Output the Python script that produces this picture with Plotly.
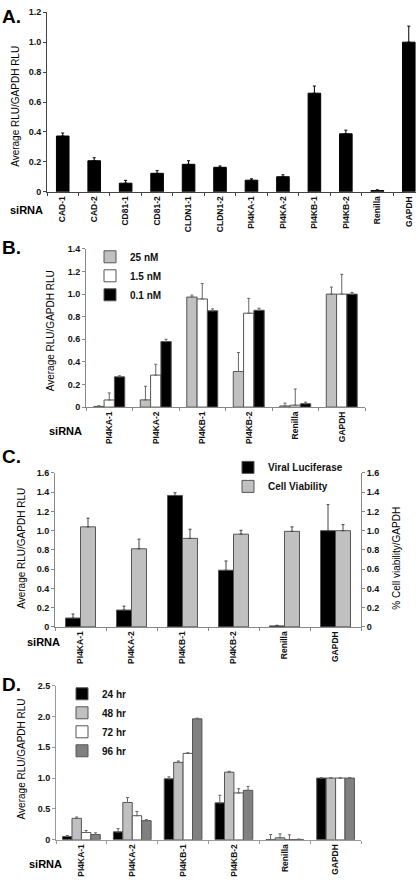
import plotly.graph_objects as go

# ---------------- DATA ----------------
a_cats = ["CAD-1", "CAD-2", "CD81-1", "CD81-2", "CLDN1-1", "CLDN1-2",
          "PI4KA-1", "PI4KA-2", "PI4KB-1", "PI4KB-2", "Renilla", "GAPDH"]
a_vals = [0.373, 0.208, 0.058, 0.124, 0.184, 0.164, 0.078, 0.101, 0.659, 0.388, 0.009, 1.0]
a_errs = [0.020, 0.020, 0.019, 0.018, 0.024, 0.009, 0.009, 0.013, 0.048, 0.024, 0.005, 0.107]

grp_cats = ["PI4KA-1", "PI4KA-2", "PI4KB-1", "PI4KB-2", "Renilla", "GAPDH"]

b_names = ["25 nM", "1.5 nM", "0.1 nM"]
b_25 = [0.006, 0.064, 0.974, 0.315, 0.010, 1.0]
b_25_err = [0.006, 0.120, 0.017, 0.168, 0.025, 0.062]
b_15 = [0.063, 0.283, 0.957, 0.831, 0.017, 1.0]
b_15_err = [0.062, 0.096, 0.136, 0.131, 0.143, 0.175]
b_01 = [0.268, 0.580, 0.852, 0.857, 0.030, 1.0]
b_01_err = [0.009, 0.020, 0.017, 0.018, 0.014, 0.015]

c_names = ["Viral Luciferase", "Cell Viability"]
c_viral = [0.092, 0.175, 1.366, 0.589, 0.010, 1.0]
c_viral_err = [0.042, 0.041, 0.028, 0.096, 0.007, 0.270]
c_cell = [1.040, 0.812, 0.920, 0.964, 0.993, 1.0]
c_cell_err = [0.090, 0.100, 0.095, 0.040, 0.047, 0.063]

d_names = ["24 hr", "48 hr", "72 hr", "96 hr"]
d_24 = [0.053, 0.128, 0.988, 0.598, 0.003, 1.0]
d_24_err = [0.016, 0.052, 0.032, 0.123, 0.082, 0.005]
d_48 = [0.347, 0.604, 1.255, 1.095, 0.032, 1.0]
d_48_err = [0.022, 0.080, 0.022, 0.015, 0.064, 0.005]
d_72 = [0.118, 0.390, 1.400, 0.759, 0.003, 1.0]
d_72_err = [0.032, 0.069, 0.010, 0.069, 0.077, 0.005]
d_96 = [0.085, 0.310, 1.960, 0.801, 0.005, 1.0]
d_96_err = [0.027, 0.016, 0.011, 0.064, 0.006, 0.005]

# tick values / labels
a_yticks = [0, 0.2, 0.4, 0.6, 0.8, 1.0, 1.2]
a_ylabels = ["0", "0.2", "0.4", "0.6", "0.8", "1.0", "1.2"]
b_yticks = [0, 0.2, 0.4, 0.6, 0.8, 1.0, 1.2, 1.4]
b_ylabels = ["0", "0.2", "0.4", "0.6", "0.8", "1.0", "1.2", "1.4"]
c_yticks = [0, 0.2, 0.4, 0.6, 0.8, 1.0, 1.2, 1.4, 1.6]
c_ylabels = ["0", "0.2", "0.4", "0.6", "0.8", "1.0", "1.2", "1.4", "1.6"]
d_yticks = [0, 0.5, 1.0, 1.5, 2.0, 2.5]
d_ylabels = ["0", "0.5", "1.0", "1.5", "2.0", "2.5"]

# ---------------- STYLE ----------------
FONT = "Liberation Sans, Arial, Helvetica, sans-serif"
BLACK = "#000000"
LGRAY = "#c0c0c0"
WHITE = "#ffffff"
DGRAY = "#808080"
EDGE = "#555555"
W, H = 416, 885


def px(x):
    return x / W


def py(y):
    return 1 - y / H


fig = go.Figure()


def add_bar(xaxis, yaxis, cats, vals, errs, color, name, width, offset,
            legend=None, showlegend=False, ecolor="#333333", lcolor=EDGE):
    fig.add_trace(go.Bar(
        x=cats, y=vals, name=name, width=width, offset=offset,
        xaxis=xaxis, yaxis=yaxis,
        marker=dict(color=color, line=dict(color=lcolor, width=1)),
        error_y=dict(type="data", array=errs, arrayminus=[0] * len(errs),
                     symmetric=False, color=ecolor, thickness=1, width=1.5),
        showlegend=showlegend, legend=legend,
    ))


# Panel A
add_bar("x", "y", a_cats, a_vals, a_errs, BLACK, "A", 0.40, -0.20,
        ecolor="#000000", lcolor=BLACK)

# Panel B
bw = 0.222
for i, (vals, errs, col, nm) in enumerate(zip([b_25, b_15, b_01],
                                             [b_25_err, b_15_err, b_01_err],
                                             [LGRAY, WHITE, BLACK], b_names)):
    add_bar("x2", "y2", grp_cats, vals, errs, col, nm, bw, -1.5 * bw + i * bw,
            legend="legend", showlegend=True, ecolor="#666666")

# Panel C (viral luciferase on left axis, cell viability on right axis)
cw = 0.294
for i, (vals, errs, col, nm, yax_) in enumerate(zip([c_viral, c_cell],
                                                   [c_viral_err, c_cell_err],
                                                   [BLACK, LGRAY], c_names,
                                                   ["y3", "y5"])):
    add_bar("x3", yax_, grp_cats, vals, errs, col, nm, cw, -cw + i * cw,
            legend="legend2", showlegend=True, ecolor="#444444")

# Panel D
dw = 0.1855
for i, (vals, errs, col, nm) in enumerate(zip([d_24, d_48, d_72, d_96],
                                             [d_24_err, d_48_err, d_72_err, d_96_err],
                                             [BLACK, LGRAY, WHITE, DGRAY], d_names)):
    add_bar("x4", "y4", grp_cats, vals, errs, col, nm, dw, -2 * dw + i * dw,
            legend="legend3", showlegend=True, ecolor="#666666")

xtickfont = dict(family=FONT, size=8.5, color="#111111", weight="bold")
ytickfont = dict(family=FONT, size=9, color="#111111", weight="bold")


def xax(domain, anchor, rng, lc):
    return dict(domain=domain, anchor=anchor, type="category", range=rng,
                tickangle=-90, tickfont=xtickfont, ticks="outside",
                tickson="boundaries", ticklen=3, tickcolor=lc,
                ticklabeloverflow="allow",
                showline=True, linecolor=lc, linewidth=1, showgrid=False,
                zeroline=False, fixedrange=True)


def yax(domain, anchor, rng, tv, tt, lc, side="left", overlaying=None):
    d = dict(domain=domain, anchor=anchor, range=rng, tickvals=tv, ticktext=tt,
             tickfont=ytickfont, ticks="outside", ticklen=3, tickcolor=lc,
             showline=True, linecolor=lc, linewidth=1, showgrid=False,
             zeroline=False, side=side, fixedrange=True)
    if overlaying:
        d["overlaying"] = overlaying
    return d


legfont = dict(family=FONT, size=10, weight="bold", color="#111111")

fig.update_layout(
    width=W, height=H, margin=dict(l=0, r=0, t=0, b=0),
    paper_bgcolor="white", plot_bgcolor="white",
    barmode="overlay",
    font=dict(family=FONT, size=10, color="#111111"),
    xaxis=xax([px(47), 1.0], "y", [-0.5, 11.23], "#444444"),
    yaxis=yax([py(189), py(7.3)], "x", [0, 1.2], a_yticks, a_ylabels, "#444444"),
    xaxis2=xax([px(86), px(365)], "y2", [-0.5, 5.5], "#888888"),
    yaxis2=yax([py(406.7), py(246.7)], "x2", [0, 1.4], b_yticks, b_ylabels, "#888888"),
    xaxis3=xax([px(55), px(361)], "y3", [-0.5, 5.5], "#888888"),
    yaxis3=yax([py(629), py(473.3)], "x3", [0, 1.6], c_yticks, c_ylabels, "#888888"),
    yaxis5=yax([py(629), py(473.3)], "x3", [0, 1.6], c_yticks, c_ylabels, "#888888",
               side="right", overlaying="y3"),
    xaxis4=xax([px(56), px(361)], "y4", [-0.5, 5.5], "#999999"),
    yaxis4=yax([py(844.3), py(688.3)], "x4", [0, 2.5], d_yticks, d_ylabels, "#999999"),
    legend=dict(x=px(90), y=py(240), xanchor="left", yanchor="top", font=legfont,
                itemwidth=30, bgcolor="rgba(0,0,0,0)", tracegroupgap=0),
    legend2=dict(x=px(228), y=py(453), xanchor="left", yanchor="top", font=legfont,
                 itemwidth=30, bgcolor="rgba(0,0,0,0)", tracegroupgap=0),
    legend3=dict(x=px(62), y=py(682), xanchor="left", yanchor="top", font=legfont,
                 itemwidth=30, bgcolor="rgba(0,0,0,0)", tracegroupgap=0),
)

ann = []
for txt, x, y in [("A.", 0, 12), ("B.", 0, 245), ("C.", 0, 457), ("D.", 0, 687)]:
    ann.append(dict(text=txt, x=px(x), y=py(y), xref="paper", yref="paper",
                    xanchor="left", yanchor="middle", showarrow=False,
                    font=dict(family=FONT, size=19, weight="bold", color="#000")))
for x, y in [(8, 207), (47, 431), (25, 644), (27, 869)]:
    ann.append(dict(text="siRNA", x=px(x), y=py(y), xref="paper", yref="paper",
                    xanchor="left", yanchor="middle", showarrow=False,
                    font=dict(family=FONT, size=11, weight="bold", color="#000")))
for txt, x, y in [("Average RLU/GAPDH RLU", 16, 103), ("Average RLU/GAPDH RLU", 50, 330),
                  ("Average RLU/GAPDH RLU", 22, 550), ("% Cell viability/GAPDH", 397, 560),
                  ("Average RLU/GAPDH RLU", 21, 763)]:
    ann.append(dict(text=txt, x=px(x), y=py(y), xref="paper", yref="paper",
                    xanchor="center", yanchor="middle", showarrow=False, textangle=-90,
                    font=dict(family=FONT, size=10, color="#000")))
fig.update_layout(annotations=ann)

# remove the default page margin so the figure sits at the window's top-left corner
fig.write_html("out.html", config={"displayModeBar": False},
               post_script="document.body.style.margin='0px';"
                           "document.body.style.overflow='hidden';")
